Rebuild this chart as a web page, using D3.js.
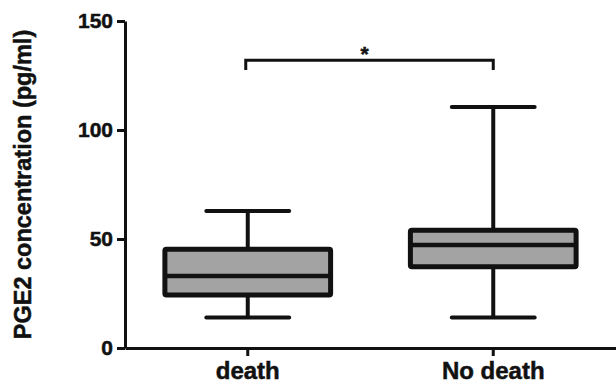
<!DOCTYPE html>
<html>
<head>
<meta charset="utf-8">
<script src="https://cdn.jsdelivr.net/npm/d3@7"></script>
<style>
    body { margin: 0; background: #fff; }
    svg text { font-family: "Liberation Sans", Arial, sans-serif; font-weight: bold; fill: #111; stroke: #111; stroke-width: 0.5px; }
</style>
</head>
<body>
<svg id="chart" width="616" height="386"></svg>
<script>
const categories = ["death", "No death"];
const mins = [14, 14];
const q1s = [24.3, 37.3];
const medians = [33, 47.2];
const q3s = [45.3, 54];
const maxs = [62.8, 110.5];
const yTicks = [0, 50, 100, 150];
const bracketY = 132;
const bracketDrop = 127.5;

const svg = d3.select("#chart");
const x = d3.scaleBand().domain(categories).range([125, 616]).padding(0);
const y = d3.scaleLinear().domain([0, 150]).range([348, 21]);

const boxes = categories.map((c, i) => ({
    cat: c, min: mins[i], q1: q1s[i], med: medians[i], q3: q3s[i], max: maxs[i]
}));

const boxW = x.bandwidth() * 0.675, capW = boxW / 2;
const cx = d => x(d.cat) + x.bandwidth() / 2;

// axes
const yAxis = svg.append("g").attr("transform", "translate(125,0)")
    .call(d3.axisLeft(y).tickValues(yTicks).tickSize(8).tickPadding(4).tickSizeOuter(0));
yAxis.selectAll("text").style("font-size", "21px");

const xAxis = svg.append("g").attr("transform", "translate(0,348)")
    .call(d3.axisBottom(x).tickSize(8).tickPadding(6).tickSizeOuter(0));
xAxis.selectAll("text").style("font-size", "24px");

svg.selectAll(".domain, .tick line").attr("stroke", "#111").attr("stroke-width", 3);

svg.append("text")
    .attr("transform", `translate(31,${(y(0) + y(150)) / 2}) rotate(-90)`)
    .attr("text-anchor", "middle")
    .style("font-size", "23.5px")
    .text("PGE2 concentration (pg/ml)");

// whiskers
const g = svg.append("g");
g.selectAll(".whisker").data(boxes).enter().append("line")
    .attr("x1", cx).attr("x2", cx)
    .attr("y1", d => y(d.min)).attr("y2", d => y(d.max))
    .attr("stroke", "#111").attr("stroke-width", 4);

["min", "max"].forEach(k => {
    g.selectAll(".cap-" + k).data(boxes).enter().append("line")
        .attr("x1", d => cx(d) - capW / 2).attr("x2", d => cx(d) + capW / 2)
        .attr("y1", d => y(d[k])).attr("y2", d => y(d[k]))
        .attr("stroke", "#111").attr("stroke-width", 4).attr("stroke-linecap", "round");
});

g.selectAll(".box").data(boxes).enter().append("rect")
    .attr("x", d => cx(d) - boxW / 2).attr("width", boxW)
    .attr("y", d => y(d.q3)).attr("height", d => y(d.q1) - y(d.q3))
    .attr("fill", "#a3a3a3").attr("stroke", "#111").attr("stroke-width", 5)
    .attr("rx", 1.5);

g.selectAll(".median").data(boxes).enter().append("line")
    .attr("x1", d => cx(d) - boxW / 2).attr("x2", d => cx(d) + boxW / 2)
    .attr("y1", d => y(d.med)).attr("y2", d => y(d.med))
    .attr("stroke", "#111").attr("stroke-width", 4.5);

// significance bracket
const bx1 = cx(boxes[0]) - 2, bx2 = cx(boxes[1]);
svg.append("path")
    .attr("d", `M${bx1},${y(bracketDrop)}V${y(bracketY)}H${bx2}V${y(bracketDrop)}`)
    .attr("fill", "none").attr("stroke", "#111").attr("stroke-width", 3);

svg.append("text")
    .attr("x", (bx1 + bx2) / 2 - 5).attr("y", y(bracketY) + 1)
    .attr("text-anchor", "middle")
    .style("font-size", "21px")
    .text("*");
</script>
</body>
</html>
